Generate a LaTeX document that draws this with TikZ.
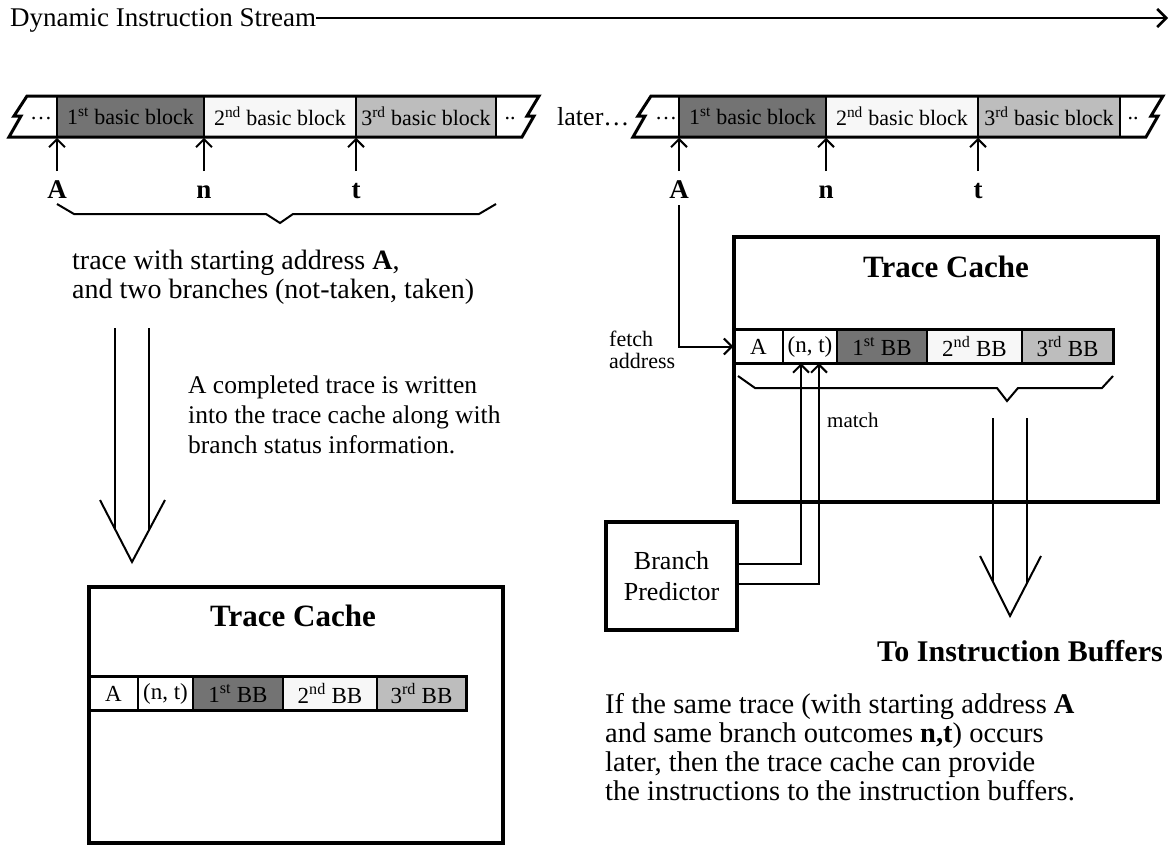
\documentclass[tikz,border=0pt]{standalone}
\usepackage{fontspec}
\setmainfont{Liberation Serif}
\usetikzlibrary{arrows.meta,calc}
\definecolor{gdark}{gray}{0.45}
\definecolor{glight}{gray}{0.74}
\definecolor{gpale}{gray}{0.97}
\newcommand{\myfs}[2]{\fontsize{#1}{#2}\selectfont}
\begin{document}
\begin{tikzpicture}[x=1pt,y=-1pt,
  scell/.style={draw, line width=1.5pt, inner sep=0pt, minimum height=41pt, font=\myfs{22}{24}},
  rcell/.style={draw, line width=1.5pt, inner sep=0pt, minimum height=32pt, font=\myfs{23}{24}},
  lbl/.style={font=\bfseries\myfs{27}{28}, inner sep=0pt, anchor=base},
  upar/.style={line width=2pt, -{Straight Barb[length=8pt,width=16pt]}},
  thickbox/.style={draw, line width=4.5pt, inner sep=0pt},
  outl/.style={draw, line width=3pt, line join=miter},
  bracel/.style={draw, line width=2pt, line join=miter},
  hollow/.style={draw, line width=2pt, line join=miter},
  title/.style={font=\bfseries\myfs{31}{32}, inner sep=0pt},
  body/.style={align=left, inner sep=0pt, anchor=north west}
]
\useasboundingbox (0,0) rectangle (1172,846);

% ---------- top arrow ----------
\node[font=\myfs{27}{28}, anchor=west, inner sep=0pt] (dis) at (10,20) {Dynamic Instruction Stream};
\coordinate (dend) at (1168,18);
\draw[line width=2.5pt, -{Straight Barb[length=9pt,width=18pt]}] (dis.east |- dend) -- (dend);

% ---------- left stream ----------
\fill[white] (27,96) -- (539,96) -- (527,116) -- (534,116) -- (522,137) -- (9,137) -- (21,116) -- (14,116) -- cycle;
\node[scell, fill=gdark, minimum width=147pt] (L1) at (130.5,116.5) {1\textsuperscript{st} basic block};
\node[scell, fill=gpale, minimum width=152pt] (L2) at (280,116.5) {2\textsuperscript{nd} basic block};
\node[scell, fill=glight, minimum width=140pt] (L3) at (426,116.5) {3\textsuperscript{rd} basic block};
\node[font=\myfs{22}{24}, inner sep=0pt] (Ld0) at (41,119) {\ldots};
\node[font=\myfs{22}{24}, inner sep=0pt] (Ld1) at (510,119) {..};
\path[outl] (27,96) -- (539,96) -- (527,116) -- (534,116) -- (522,137) -- (9,137) -- (21,116) -- (14,116) -- cycle;

\node[lbl] (lA) at (57,198) {A};
\node[lbl] (ln) at (204,198) {n};
\node[lbl] (lt) at (356,198) {t};
\draw[upar] (lA.base |- 0,171) -- (lA.base |- L1.south);
\draw[upar] (ln.base |- 0,171) -- (ln.base |- L2.south);
\draw[upar] (lt.base |- 0,171) -- (lt.base |- L3.south);

\path[bracel] (57,204) -- (74,214) -- (266,214) -- (280,223) -- (293,214) -- (479,214) -- (496,204);

\node[body, font=\myfs{28}{29}] (t1) at (72,250) {trace with starting address \textbf{A},\\and two branches (not-taken, taken)};

% ---------- left hollow arrow ----------
\path[hollow] (115,328) -- (115,529);
\path[hollow] (149,328) -- (149,530);
\path[hollow] (100,500) -- (132,562) -- (165,500);

\node[body, font=\myfs{25.5}{30}] (t2) at (188,376) {A completed trace is written\\into the trace cache along with\\branch status information.};

% ---------- left trace cache ----------
\node[thickbox, minimum width=414pt, minimum height=256pt] (tc1) at (296,715) {};
\node[title] (tc1t) at (293,616) {Trace Cache};
\node[rcell, minimum width=49pt] (aA) at (113.5,693.5) {A};
\node[rcell, minimum width=55pt] (aN) at (165.5,693.5) {(n, t)};
\node[rcell, fill=gdark, minimum width=90pt] (a1) at (238,693.5) {1\textsuperscript{st} BB};
\node[rcell, fill=gpale, minimum width=94pt] (a2) at (330,693.5) {2\textsuperscript{nd} BB};
\node[rcell, fill=glight, minimum width=89pt] (a3) at (421.5,693.5) {3\textsuperscript{rd} BB};
\draw[line width=3pt] (aA.north west) rectangle (a3.south east);

% ---------- right stream ----------
\node[font=\myfs{26}{28}, anchor=west, inner sep=0pt] (later) at (557,117) {later\ldots};
\fill[white] (651,96) -- (1163,96) -- (1151,116) -- (1158,116) -- (1146,137) -- (633,137) -- (645,116) -- (638,116) -- cycle;
\node[scell, fill=gdark, minimum width=147pt] (R1) at (752.5,116.5) {1\textsuperscript{st} basic block};
\node[scell, fill=gpale, minimum width=152pt] (R2) at (902,116.5) {2\textsuperscript{nd} basic block};
\node[scell, fill=glight, minimum width=142pt] (R3) at (1049,116.5) {3\textsuperscript{rd} basic block};
\node[font=\myfs{22}{24}, inner sep=0pt] (Rd0) at (666,119) {\ldots};
\node[font=\myfs{22}{24}, inner sep=0pt] (Rd1) at (1133,119) {..};
\path[outl] (651,96) -- (1163,96) -- (1151,116) -- (1158,116) -- (1146,137) -- (633,137) -- (645,116) -- (638,116) -- cycle;

\node[lbl] (rlA) at (679,198) {A};
\node[lbl] (rln) at (826,198) {n};
\node[lbl] (rlt) at (978,198) {t};
\draw[upar] (rlA.base |- 0,171) -- (rlA.base |- R1.south);
\draw[upar] (rln.base |- 0,171) -- (rln.base |- R2.south);
\draw[upar] (rlt.base |- 0,171) -- (rlt.base |- R3.south);

% ---------- right trace cache ----------
\node[thickbox, minimum width=424pt, minimum height=265pt] (tc2) at (946,369.5) {};
\node[title] (tc2t) at (946,267) {Trace Cache};
\node[rcell, minimum width=49pt] (bA) at (758.5,346.5) {A};
\node[rcell, minimum width=54pt] (bN) at (810,346.5) {(n, t)};
\node[rcell, fill=gdark, minimum width=90pt] (b1) at (882,346.5) {1\textsuperscript{st} BB};
\node[rcell, fill=gpale, minimum width=95pt] (b2) at (974.5,346.5) {2\textsuperscript{nd} BB};
\node[rcell, fill=glight, minimum width=91pt] (b3) at (1067.5,346.5) {3\textsuperscript{rd} BB};
\draw[line width=3pt] (bA.north west) rectangle (b3.south east);

\path[bracel] (738,376) -- (755,388) -- (997,388) -- (1007,401) -- (1018,388) -- (1102,388) -- (1113,376);

\node[anchor=west, align=left, font=\myfs{22}{22}, inner sep=0pt] (fa) at (609,350) {fetch\\address};
\draw[upar] (rlA.base |- 0,205) |- (bA.west);

\node[anchor=west, font=\myfs{21}{22}, inner sep=0pt] (mt) at (827,420) {match};

% ---------- branch predictor ----------
\node[thickbox, minimum width=131pt, minimum height=108pt, align=center, font=\myfs{26}{31}] (bp) at (671.5,576) {Branch\\Predictor};
\draw[upar] ($(bp.east)+(0,-12)$) -| ([xshift=-9pt]bN.south);
\draw[upar] ($(bp.east)+(0,8)$) -| ([xshift=9pt]bN.south);

% ---------- right hollow arrow ----------
\path[hollow] (993,418) -- (993,582);
\path[hollow] (1027,418) -- (1027,583);
\path[hollow] (980,556) -- (1010,616) -- (1041,556);

\node[font=\bfseries\myfs{30}{32}, inner sep=0pt] (tib) at (1020,651) {To Instruction Buffers};

\node[body, font=\myfs{28.5}{29}] (t3) at (605,693) {If the same trace (with starting address \textbf{A}\\and same branch outcomes \textbf{n,t}) occurs\\later, then the trace cache can provide\\the instructions to the instruction buffers.};
\end{tikzpicture}
\end{document}
